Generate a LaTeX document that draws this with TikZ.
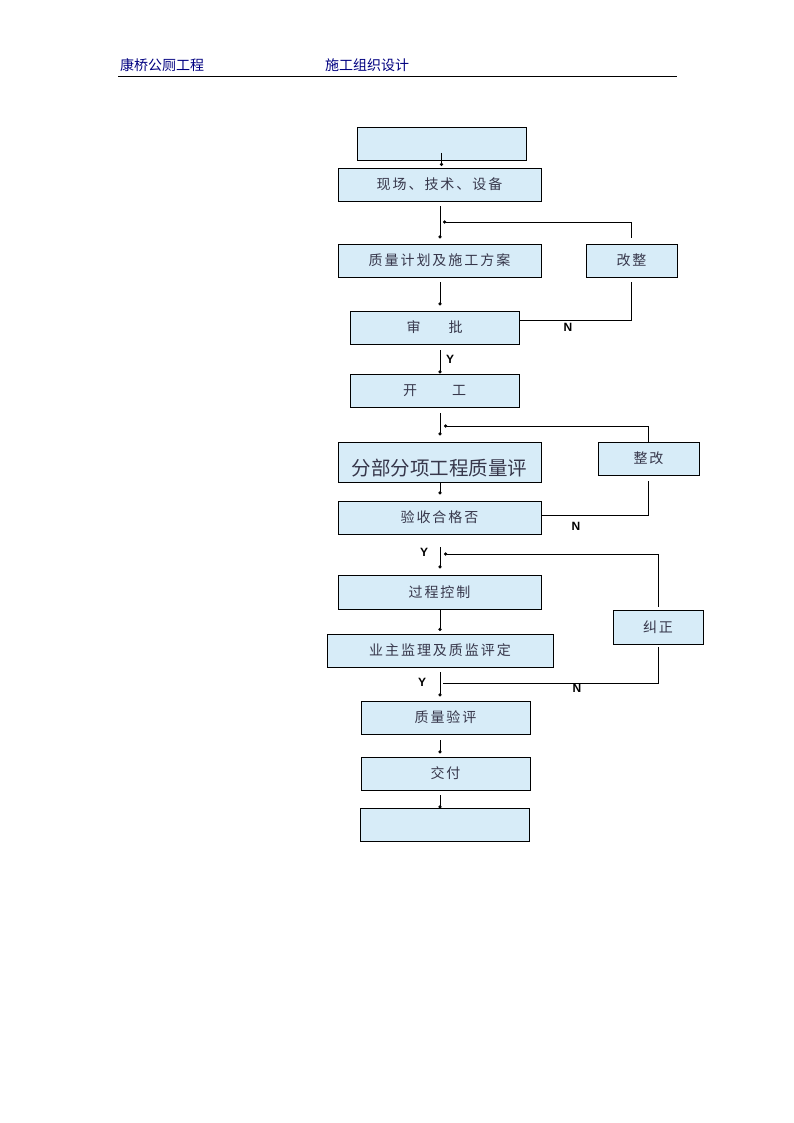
\documentclass[tikz,border=0pt]{standalone}
\usepackage{fontspec}
\setmainfont{Noto Sans CJK SC}
\newfontfamily\ynfont{Liberation Sans}
\usetikzlibrary{arrows.meta}
\definecolor{boxblue}{RGB}{215,236,248}
\definecolor{headblue}{RGB}{0,0,128}
\definecolor{txtgray}{RGB}{55,55,75}

\begin{document}
\begin{tikzpicture}[x=1pt,y=-1pt]
\tikzset{box/.style={draw,line width=0.9pt,fill=boxblue,minimum height=33pt,inner sep=0pt,
    text=txtgray,font=\fontsize{14}{14}\selectfont\addfontfeatures{LetterSpace=14}}}
\tikzset{flow/.style={line width=0.8pt,-{Circle[length=3.2pt]}}}
\tikzset{back/.style={line width=0.8pt}}
\tikzset{yn/.style={font=\ynfont\bfseries\fontsize{12}{12}\selectfont,inner sep=0pt}}
\tikzset{head/.style={anchor=base west,inner sep=0pt,text=headblue,font=\fontsize{14}{14}\selectfont}}
%\tikzset{box/.style={draw,fill=boxblue,minimum width=203pt}}
\useasboundingbox (0,0) rectangle (794,1123);

\node[head] (proj) at (120,71) {康桥公厕工程};
\node[head] (title) at (325,71) {施工组织设计};
\draw[line width=0.9pt] (118,76) -- (677,76);

\node[box,minimum width=169pt] (start) at (441.5,143.5) {};
\node[box,minimum width=203pt] (site) at (439.5,184.5) {现场、技术、设备};
\node[box,minimum width=203pt] (plan) at (439.5,260.5) {质量计划及施工方案};
\node[box,minimum width=91pt] (fixa) at (631.5,260.5) {改整};
\node[box,minimum width=169pt] (approve) at (434.5,327.5) {审\hspace{28pt}批};
\node[box,minimum width=169pt] (begin) at (434.5,390.5) {开\hspace{35pt}工};
\node[box,minimum width=203pt,minimum height=40pt,text height=28pt,text depth=2pt,
    font=\fontsize{19.5}{19.5}\selectfont] (subeval) at (439.5,462) {分部分项工程质量评};
\node[box,minimum width=101pt] (fixb) at (648.5,458.5) {整改};
\node[box,minimum width=203pt] (check) at (439.5,517.5) {验收合格否};
\node[box,minimum width=203pt,minimum height=34pt] (process) at (439.5,592) {过程控制};
\node[box,minimum width=226pt] (owner) at (440,650.5) {业主监理及质监评定};
\node[box,minimum width=90pt,minimum height=34pt] (correct) at (658,627) {纠正};
\node[box,minimum width=169pt] (qeval) at (445.5,717.5) {质量验评};
\node[box,minimum width=169pt] (deliver) at (445.5,773.5) {交付};
\node[box,minimum width=169pt] (finish) at (444.5,824.5) {};

\coordinate (spine) at (440,0);
\coordinate (backa) at (443,222);
\coordinate (backb) at (444,426);
\coordinate (backc) at (444,554);
\coordinate (nsplit) at (443,683);

% main line
\draw[flow,shorten >=1.5pt] (start.center) ++(0,9.5) -- (site.north -| start.center);
\draw[flow,shorten <=5pt,shorten >=5pt] (site.south -| spine) -- (plan.north -| spine);
\draw[flow,shorten <=5pt,shorten >=5pt] (plan.south -| spine) -- (approve.north -| spine);
\draw[flow,shorten <=6pt] (approve.south -| spine) -- (begin.north -| spine);
\draw[flow,shorten <=6pt,shorten >=6pt] (begin.south -| spine) -- (subeval.north -| spine);
\draw[flow,shorten >=6pt] (subeval.south -| spine) -- (check.north -| spine);
\draw[flow,shorten <=13pt,shorten >=6pt] (check.south -| spine) -- (process.north -| spine);
\draw[flow,shorten >=2.5pt] (process.south -| spine) -- (owner.north -| spine);
\draw[flow,shorten <=5pt,shorten >=4pt] (owner.south -| spine) -- (qeval.north -| spine);
\draw[flow,shorten <=6pt,shorten >=3pt] (qeval.south -| spine) -- (deliver.north -| spine);
\draw[flow,shorten <=5pt,shorten >=-1pt] (deliver.south -| spine) -- (finish.north -| spine);

% N branches
\draw[back,shorten >=5pt] ([yshift=7.5pt]approve.east) -| (fixa.south);
\draw[flow,shorten <=6pt] (fixa.north) |- (backa);
\draw[back,shorten >=6pt] ([yshift=2.5pt]check.east) -| (fixb.south);
\draw[flow] (fixb.north) |- (backb);
\draw[back,shorten >=3pt] (nsplit) -| (correct.south);
\draw[flow,shorten <=3pt] (correct.north) |- (backc);

\node[yn] (na) at (568,327) {N};
\node[yn] (ya) at (450,359) {Y};
\node[yn] (nb) at (576,526) {N};
\node[yn] (yb) at (424,552) {Y};
\node[yn] (yc) at (422,682) {Y};
\node[yn] (nc) at (577,688) {N};
\end{tikzpicture}
\end{document}
